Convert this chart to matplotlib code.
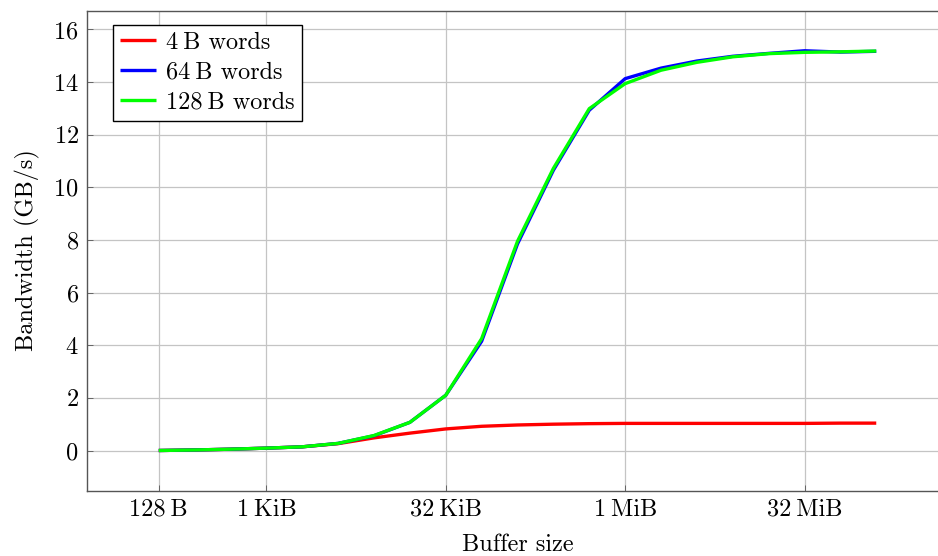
import matplotlib
matplotlib.use("Agg")
import matplotlib.pyplot as plt

# buffer sizes in bytes (one point per power of two, 128 B .. 128 MiB)
sizes = [128, 256, 512, 1024, 2048, 4096, 8192, 16384, 32768, 65536,
         131072, 262144, 524288, 1048576, 2097152, 4194304, 8388608,
         16777216, 33554432, 67108864, 134217728]

# bandwidth in GB/s
bw_4b = [0.0, 0.02, 0.05, 0.09, 0.14, 0.26, 0.48, 0.66, 0.82, 0.92, 0.97,
         1.0, 1.02, 1.03, 1.03, 1.03, 1.03, 1.03, 1.03, 1.04, 1.04]
bw_64b = [0.0, 0.02, 0.05, 0.09, 0.14, 0.27, 0.56, 1.07, 2.1, 4.15, 7.85,
          10.65, 12.93, 14.13, 14.53, 14.8, 14.98, 15.09, 15.19, 15.14, 15.17]
bw_128b = [0.0, 0.02, 0.05, 0.09, 0.14, 0.27, 0.57, 1.07, 2.1, 4.25, 7.95,
           10.72, 12.99, 13.94, 14.45, 14.75, 14.96, 15.08, 15.13, 15.15, 15.18]

series_labels = ["4\u2009B words", "64\u2009B words", "128\u2009B words"]
series_colors = ["#ff0000", "#0000ff", "#00ff00"]

tick_pos = [128, 1024, 32768, 1048576, 33554432]
tick_labels = ["128\u2009B", "1\u2009KiB", "32\u2009KiB", "1\u2009MiB", "32\u2009MiB"]
yticks = [0, 2, 4, 6, 8, 10, 12, 14, 16]

plt.rcParams["font.family"] = ["cmr10", "DejaVu Serif"]
plt.rcParams["axes.formatter.use_mathtext"] = True
plt.rcParams["mathtext.fontset"] = "cm"

fig = plt.figure(figsize=(9.38, 5.56), dpi=100)
ax = fig.add_axes([87 / 938, 1 - 490.5 / 556, (948 - 87) / 938, 480 / 556])

for ys, lab, col in zip([bw_4b, bw_64b, bw_128b], series_labels, series_colors):
    ax.plot(sizes, ys, color=col, lw=2.4, label=lab, solid_capstyle="butt")

ax.set_xscale("log", base=2)
ax.set_xlim(2 ** 5, 2 ** 29)
ax.set_ylim(-1.52, 16.72)
ax.set_xticks(tick_pos)
ax.set_xticklabels(tick_labels)
ax.minorticks_off()
ax.set_yticks(yticks)
ax.grid(True, color="#c4c4c4", lw=0.9)
ax.set_axisbelow(True)

for sp in ax.spines.values():
    sp.set_color("#555555")
    sp.set_linewidth(1.0)
ax.tick_params(direction="in", length=4, width=0.6, color="#555555",
               labelsize=17.5, pad=6)

ax.set_xlabel("Buffer size", fontsize=17.5, labelpad=9)
ax.set_ylabel("Bandwidth (GB/s)", fontsize=17.5, labelpad=9)

leg = ax.legend(loc="upper left", bbox_to_anchor=(26 / 861, 1 - 14 / 480),
                fontsize=17.5, frameon=True, fancybox=False, framealpha=1,
                edgecolor="black", handlelength=1.45, handletextpad=0.45,
                borderpad=0.3, labelspacing=0.32, borderaxespad=0)
leg.get_frame().set_linewidth(1.0)

fig.savefig("out.png", dpi=100)
